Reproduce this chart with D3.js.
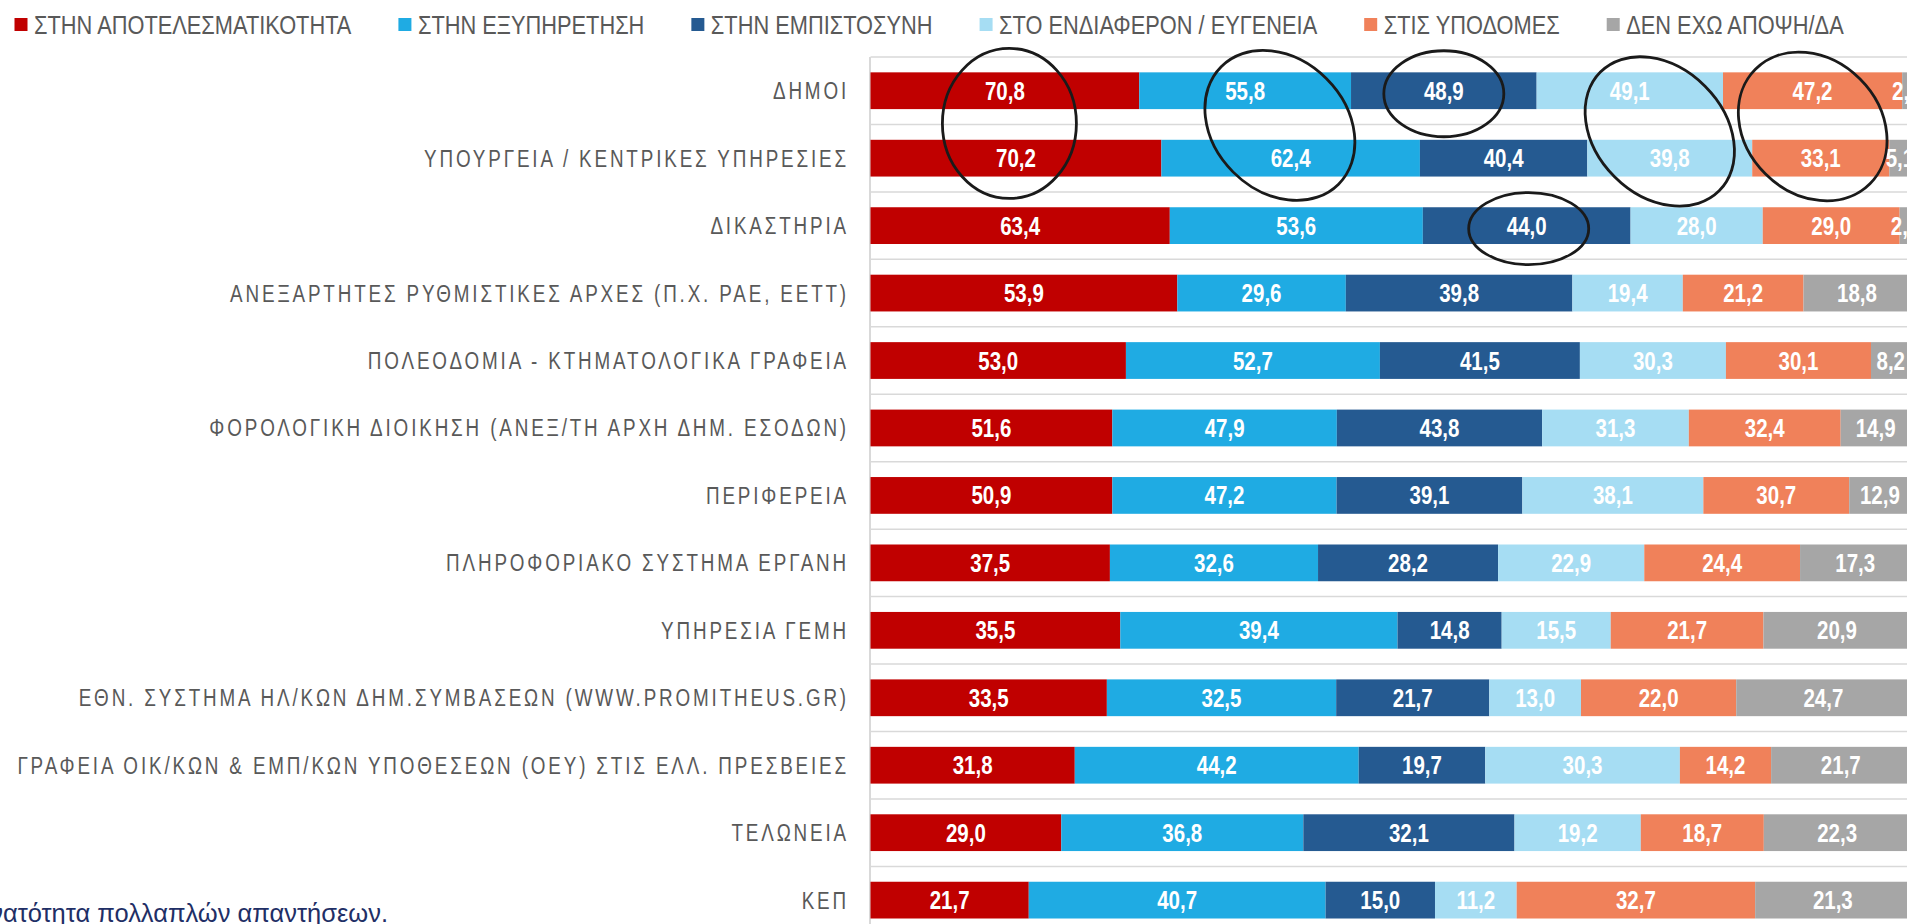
<!DOCTYPE html>
<html>
<head>
<meta charset="utf-8">
<script src="https://cdn.jsdelivr.net/npm/d3@7"></script>
<style>
  html, body { margin: 0; padding: 0; background: #fff; overflow: hidden; }
  svg { display: block; }
</style>
</head>
<body>
<div id="chart"></div>
<script>
// categories (top to bottom)
var categories = [
    "ΔΗΜΟΙ",
    "ΥΠΟΥΡΓΕΙΑ / ΚΕΝΤΡΙΚΕΣ ΥΠΗΡΕΣΙΕΣ",
    "ΔΙΚΑΣΤΗΡΙΑ",
    "ΑΝΕΞΑΡΤΗΤΕΣ ΡΥΘΜΙΣΤΙΚΕΣ ΑΡΧΕΣ (Π.Χ. ΡΑΕ, ΕΕΤΤ)",
    "ΠΟΛΕΟΔΟΜΙΑ - ΚΤΗΜΑΤΟΛΟΓΙΚΑ ΓΡΑΦΕΙΑ",
    "ΦΟΡΟΛΟΓΙΚΗ ΔΙΟΙΚΗΣΗ (ΑΝΕΞ/ΤΗ ΑΡΧΗ ΔΗΜ. ΕΣΟΔΩΝ)",
    "ΠΕΡΙΦΕΡΕΙΑ",
    "ΠΛΗΡΟΦΟΡΙΑΚΟ ΣΥΣΤΗΜΑ ΕΡΓΑΝΗ",
    "ΥΠΗΡΕΣΙΑ ΓΕΜΗ",
    "ΕΘΝ. ΣΥΣΤΗΜΑ ΗΛ/ΚΩΝ ΔΗΜ.ΣΥΜΒΑΣΕΩΝ (WWW.PROMITHEUS.GR)",
    "ΓΡΑΦΕΙΑ ΟΙΚ/ΚΩΝ & ΕΜΠ/ΚΩΝ ΥΠΟΘΕΣΕΩΝ (ΟΕΥ) ΣΤΙΣ ΕΛΛ. ΠΡΕΣΒΕΙΕΣ",
    "ΤΕΛΩΝΕΙΑ",
    "ΚΕΠ"
];

// series names (legend order)
var seriesNames = [
    "ΣΤΗΝ ΑΠΟΤΕΛΕΣΜΑΤΙΚΟΤΗΤΑ",
    "ΣΤΗΝ ΕΞΥΠΗΡΕΤΗΣΗ",
    "ΣΤΗΝ ΕΜΠΙΣΤΟΣΥΝΗ",
    "ΣΤΟ ΕΝΔΙΑΦΕΡΟΝ / ΕΥΓΕΝΕΙΑ",
    "ΣΤΙΣ ΥΠΟΔΟΜΕΣ",
    "ΔΕΝ ΕΧΩ ΑΠΟΨΗ/ΔΑ"
];

// series values (%), one per category
var apotelesmatikotita = [70.8, 70.2, 63.4, 53.9, 53.0, 51.6, 50.9, 37.5, 35.5, 33.5, 31.8, 29.0, 21.7];
var exypiretisi        = [55.8, 62.4, 53.6, 29.6, 52.7, 47.9, 47.2, 32.6, 39.4, 32.5, 44.2, 36.8, 40.7];
var empistosyni        = [48.9, 40.4, 44.0, 39.8, 41.5, 43.8, 39.1, 28.2, 14.8, 21.7, 19.7, 32.1, 15.0];
var endiaferon         = [49.1, 39.8, 28.0, 19.4, 30.3, 31.3, 38.1, 22.9, 15.5, 13.0, 30.3, 19.2, 11.2];
var ypodomes           = [47.2, 33.1, 29.0, 21.2, 30.1, 32.4, 30.7, 24.4, 21.7, 22.0, 14.2, 18.7, 32.7];
var denExoApopsi       = [2.2, 5.1, 2.3, 18.8, 8.2, 14.9, 12.9, 17.3, 20.9, 24.7, 21.7, 22.3, 21.3];

var colors = ["#C00000", "#1FABE3", "#255A91", "#A6DDF3", "#F0815A", "#A6A6A6"];

var footnote = "*Δυνατότητα πολλαπλών απαντήσεων.";

var W = 1907, H = 924;
var plotLeft = 870.5, plotWidth = 1040;
var narrow = 0.82; // Arial Narrow look: Liberation Sans squeezed horizontally
var fontFam = "'Liberation Sans', Arial, sans-serif";

var svg = d3.select("#chart").append("svg")
    .attr("width", W)
    .attr("height", H);

// table for d3.stack
var allSeries = [apotelesmatikotita, exypiretisi, empistosyni, endiaferon, ypodomes, denExoApopsi];
var rows = categories.map(function (c, i) {
    var r = { cat: c };
    seriesNames.forEach(function (s, j) { r[s] = allSeries[j][i]; });
    return r;
});

var stacked = d3.stack()
    .keys(seriesNames)
    .offset(d3.stackOffsetExpand)(rows);

var x = d3.scaleLinear().domain([0, 1]).range([plotLeft, plotLeft + plotWidth]);
var y = d3.scaleBand()
    .domain(categories)
    .range([57, 57 + 13 * 67.45])
    .paddingInner(0.455)
    .paddingOuter(0.2275);

var gap = (y.step() - y.bandwidth()) / 2;

// horizontal grid lines between rows
var gridYs = categories.map(function (c) { return y(c) - gap; });
gridYs.push(y(categories[categories.length - 1]) + y.bandwidth() + gap);
svg.append("g").selectAll("line")
    .data(gridYs)
    .enter().append("line")
    .attr("x1", plotLeft).attr("x2", W)
    .attr("y1", function (d) { return d; })
    .attr("y2", function (d) { return d; })
    .attr("stroke", "#D9D9D9")
    .attr("stroke-width", 1.5);

// vertical axis line
svg.append("line")
    .attr("x1", plotLeft - 0.5).attr("x2", plotLeft - 0.5)
    .attr("y1", gridYs[0]).attr("y2", H)
    .attr("stroke", "#D9D9D9")
    .attr("stroke-width", 2);

// bars
var layers = svg.append("g").selectAll("g")
    .data(stacked)
    .enter().append("g")
    .attr("fill", function (d, i) { return colors[i]; });

layers.selectAll("rect")
    .data(function (d) { return d; })
    .enter().append("rect")
    .attr("x", function (d) { return x(d[0]); })
    .attr("y", function (d) { return y(d.data.cat); })
    .attr("width", function (d) { return x(d[1]) - x(d[0]); })
    .attr("height", y.bandwidth());

// value labels
var fmt = function (v) { return d3.format(".1f")(v).replace(".", ","); };
layers.selectAll("text")
    .data(function (d) { return d.map(function (p) { p.key = d.key; return p; }); })
    .enter().append("text")
    .attr("transform", function (d) {
        var cx = (x(d[0]) + x(d[1])) / 2;
        var cy = y(d.data.cat) + y.bandwidth() / 2 + 9;
        return "translate(" + cx + "," + cy + ") scale(" + narrow + ",1)";
    })
    .attr("text-anchor", "middle")
    .attr("fill", "#fff")
    .style("font-family", fontFam)
    .style("font-weight", "bold")
    .style("font-size", "25px")
    .text(function (d) { return fmt(d.data[d.key]); });

// category labels
svg.append("g").selectAll("text")
    .data(categories)
    .enter().append("text")
    .attr("transform", function (d) {
        return "translate(849," + (y(d) + y.bandwidth() / 2 + 8.5) + ") scale(" + narrow + ",1)";
    })
    .attr("text-anchor", "end")
    .attr("fill", "#595959")
    .style("font-family", fontFam)
    .style("font-size", "23px")
    .style("letter-spacing", (2.85 / narrow) + "px")
    .text(function (d) { return d; });

// legend
var legend = svg.append("g");
var lx = 14.5;
seriesNames.forEach(function (s, i) {
    legend.append("rect")
        .attr("x", lx).attr("y", 18)
        .attr("width", 13).attr("height", 13)
        .attr("fill", colors[i]);
    var t = legend.append("text")
        .attr("transform", "translate(" + (lx + 19.5) + ",33.5) scale(" + narrow + ",1)")
        .attr("fill", "#595959")
        .style("font-family", fontFam)
        .style("font-size", "26.6px")
        .text(s);
    lx = lx + 19.5 + t.node().getComputedTextLength() * narrow + 47;
});

// hand-drawn annotation ellipses (anchored on series / rows)
var annotations = [
    { series: 0, rows: [0, 1], dx: -1, dy: -1, rx: 67, ry: 75, rot: 0 },
    { series: 1, rows: [0, 1], dx: 12, dy: 1, rx: 83, ry: 66, rot: 45 },
    { series: 2, rows: [0], dx: 0, dy: 3, rx: 60, ry: 43, rot: 0 },
    { series: 2, rows: [2], dx: 2, dy: 3, rx: 60, ry: 36, rot: 0 },
    { series: 3, rows: [0, 1], dx: 10, dy: 7, rx: 84, ry: 64, rot: 45 },
    { series: 4, rows: [0, 1], dx: -4, dy: 2, rx: 81, ry: 67, rot: 45 }
];
svg.append("g").selectAll("ellipse")
    .data(annotations)
    .enter().append("ellipse")
    .attr("transform", function (a) {
        var cx = d3.mean(a.rows, function (r) {
            var p = stacked[a.series][r];
            return (x(p[0]) + x(p[1])) / 2;
        }) + a.dx;
        var cy = d3.mean(a.rows, function (r) {
            return y(categories[r]) + y.bandwidth() / 2;
        }) + a.dy;
        return "translate(" + cx + "," + cy + ") rotate(" + a.rot + ")";
    })
    .attr("rx", function (a) { return a.rx; })
    .attr("ry", function (a) { return a.ry; })
    .attr("fill", "none")
    .attr("stroke", "#1a1a1a")
    .attr("stroke-width", 2.8);

// footnote (cut at the left edge as in the slide)
svg.append("text")
    .attr("transform", "translate(388,922) scale(0.98,1)")
    .attr("text-anchor", "end")
    .attr("fill", "#1F2F66")
    .style("font-family", fontFam)
    .style("font-size", "26px")
    .text(footnote);
</script>
</body>
</html>
